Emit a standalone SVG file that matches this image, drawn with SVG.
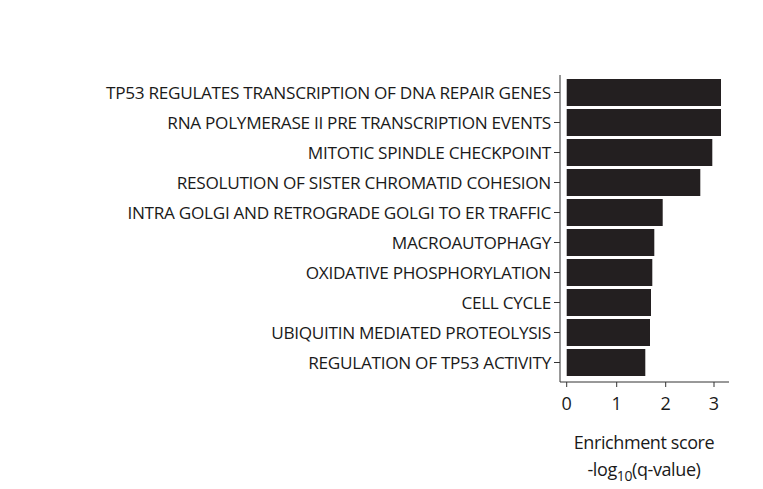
<svg xmlns="http://www.w3.org/2000/svg" width="763" height="489" viewBox="0 0 763 489">
<style>
.l{font-family:"Open Sans","Liberation Sans",sans-serif;font-size:17.2px;fill:#1a1a1a;text-anchor:end;letter-spacing:-0.3px}
.t{font-family:"Open Sans","Liberation Sans",sans-serif;font-size:18px;fill:#1a1a1a;text-anchor:middle}
.b{fill:#231f20}
.a{stroke:#333;stroke-width:1;fill:none}
</style>
<rect width="763" height="489" fill="#fff"/>
<g id="axes">
<path class="a" d="M560,75V382H729"/>
<path class="a" d="M554,92.5H560M554,122.5H560M554,152.5H560M554,182.5H560M554,212.5H560M554,242.5H560M554,272.5H560M554,302.5H560M554,332.5H560M554,362.5H560"/>
<path class="a" d="M566.7,382V387M616.7,382V387M665.7,382V387M714,382V387"/>
<text class="t" x="566.7" y="410">0</text><text class="t" x="616.7" y="410">1</text><text class="t" x="665.7" y="410">2</text><text class="t" x="714" y="410">3</text>
<text class="t" x="644" y="449" font-size="22.5" letter-spacing="-0.4">Enrichment score</text>
<text class="t" x="644" y="476" font-size="22.5" letter-spacing="-0.4">-log<tspan font-size="14" dy="5">10</tspan><tspan dy="-5">(q-value)</tspan></text>
</g>
<g id="bars">
<rect class="b" x="566.7" y="79" width="154.3" height="27"/>
<rect class="b" x="566.7" y="109" width="154.3" height="27"/>
<rect class="b" x="566.7" y="139" width="145.6" height="27"/>
<rect class="b" x="566.7" y="169" width="133.6" height="27"/>
<rect class="b" x="566.7" y="199" width="96" height="27"/>
<rect class="b" x="566.7" y="229" width="87.6" height="27"/>
<rect class="b" x="566.7" y="259" width="85.6" height="27"/>
<rect class="b" x="566.7" y="289" width="84.3" height="27"/>
<rect class="b" x="566.7" y="319" width="83.3" height="27"/>
<rect class="b" x="566.7" y="349" width="78.6" height="27"/>
</g>
<g id="labels">
<text class="l" x="551" y="99">TP53 REGULATES TRANSCRIPTION OF DNA REPAIR GENES</text>
<text class="l" x="551" y="129">RNA POLYMERASE II PRE TRANSCRIPTION EVENTS</text>
<text class="l" x="551" y="159">MITOTIC SPINDLE CHECKPOINT</text>
<text class="l" x="551" y="189">RESOLUTION OF SISTER CHROMATID COHESION</text>
<text class="l" x="551" y="219">INTRA GOLGI AND RETROGRADE GOLGI TO ER TRAFFIC</text>
<text class="l" x="551" y="249">MACROAUTOPHAGY</text>
<text class="l" x="551" y="279">OXIDATIVE PHOSPHORYLATION</text>
<text class="l" x="551" y="309">CELL CYCLE</text>
<text class="l" x="551" y="339">UBIQUITIN MEDIATED PROTEOLYSIS</text>
<text class="l" x="551" y="369">REGULATION OF TP53 ACTIVITY</text>
</g>
</svg>
